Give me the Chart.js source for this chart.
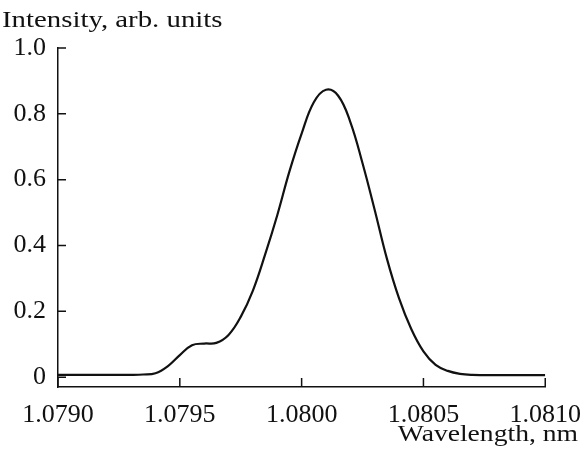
<!DOCTYPE html>
<html>
<head>
<meta charset="utf-8">
<script src="https://cdn.jsdelivr.net/npm/chart.js@4/dist/chart.umd.min.js"></script>
<style>
html,body{margin:0;padding:0;background:#fff;}
#wrap{width:586px;height:451px;position:relative;}
</style>
</head>
<body>
<div id="wrap"><canvas id="c" width="586" height="451"></canvas></div>
<script>
const wavelength = [1.0790,1.0791,1.0792,1.0793,1.07935,1.0794,1.07945,1.0795,1.07955,1.0796,1.07965,1.0797,1.07975,1.0798,1.07985,1.0799,1.07995,1.0800,1.08005,1.0801,1.08015,1.0802,1.08025,1.0803,1.08035,1.0804,1.08045,1.0805,1.08055,1.0806,1.08065,1.0807,1.0808,1.0809,1.0810];
const intensity  = [0.007,0.007,0.007,0.007,0.008,0.012,0.033,0.067,0.097,0.102,0.104,0.128,0.183,0.263,0.372,0.492,0.625,0.740,0.835,0.873,0.855,0.775,0.650,0.508,0.360,0.239,0.146,0.078,0.037,0.019,0.010,0.007,0.006,0.006,0.006];
const xTicks = [1.0790,1.0795,1.0800,1.0805,1.0810];
const yTicks = [0,0.2,0.4,0.6,0.8,1.0];
const yTickLabels = ["0","0.2","0.4","0.6","0.8","1.0"];
const yTitle = "Intensity, arb. units";
const xTitle = "Wavelength, nm";

const FONT = "'Liberation Serif', 'Times New Roman', Times, serif";

const innerTicks = {
  id:'innerTicks',
  afterDraw(chart){
    const ctx = chart.ctx, x = chart.scales.x, y = chart.scales.y, a = chart.chartArea;
    ctx.save();
    ctx.strokeStyle = '#111'; ctx.lineWidth = 1.5;
    ctx.beginPath();
    yTicks.forEach(v=>{ const p = y.getPixelForValue(v); ctx.moveTo(a.left, p); ctx.lineTo(a.left+8, p); });
    xTicks.forEach(v=>{ const p = x.getPixelForValue(v); ctx.moveTo(p, a.bottom); ctx.lineTo(p, a.bottom-9); });
    ctx.stroke();
    ctx.fillStyle = '#111';
    ctx.font = '24px ' + FONT;
    ctx.textBaseline = 'alphabetic';
    ctx.textAlign = 'left';
    ctx.save(); ctx.translate(2, 27); ctx.scale(1.2,1); ctx.fillText(yTitle, 0, 0); ctx.restore();
    ctx.textAlign = 'right';
    ctx.save(); ctx.translate(578, 441); ctx.scale(1.15,1); ctx.fillText(xTitle, 0, 0); ctx.restore();
    ctx.restore();
  }
};

new Chart(document.getElementById('c'), {
  type: 'scatter',
  data: { datasets: [{
    data: wavelength.map((w,i)=>({x:w, y:intensity[i]})),
    showLine: true, borderColor: '#111', borderWidth: 2.2, pointRadius: 0,
    tension: 0.4, fill: false
  }]},
  options: {
    responsive: false, animation: false,
    layout: { padding: { top: 48, right: 4, left: 0, bottom: 0 } },
    plugins: { legend: {display:false}, tooltip: {enabled:false} },
    scales: {
      x: {
        type: 'linear', min: 1.0790, max: 1.0810,
        afterBuildTicks: s => { s.ticks = xTicks.map(v=>({value:v})); },
        afterFit: s => { s.height = 64; },
        grid: { display: false },
        border: { display: true, color: '#111', width: 1.5 },
        ticks: { color: '#111', padding: 5, maxRotation: 0, autoSkip: false,
          font: { family: FONT, size: 26 },
          callback: v => v.toFixed(4) }
      },
      y: {
        type: 'linear', min: -0.03, max: 1.0,
        afterBuildTicks: s => { s.ticks = yTicks.map(v=>({value:v})); },
        afterFit: s => { s.width = 58; },
        grid: { display: false },
        border: { display: true, color: '#111', width: 1.5 },
        ticks: { color: '#111', padding: 4, autoSkip: false,
          font: { family: FONT, size: 26 },
          callback: (v) => { const i = yTicks.findIndex(t=>Math.abs(t-v)<1e-9); return i>=0 ? yTickLabels[i] : ''; } }
      }
    }
  },
  plugins: [innerTicks]
});
</script>
</body>
</html>
